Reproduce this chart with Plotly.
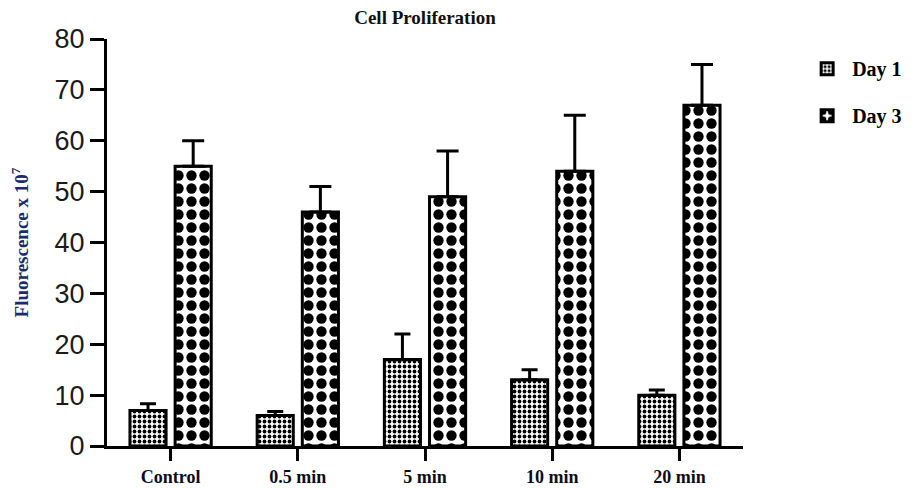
import plotly.graph_objects as go

categories = ["Control", "0.5 min", "5 min", "10 min", "20 min"]
day1_values = [7, 6, 17, 13, 10]
day1_err = [1.3, 0.8, 5, 2, 1]
day3_values = [55, 46, 49, 54, 67]
day3_err = [5, 5, 9, 11, 8]
y_ticks = [0, 10, 20, 30, 40, 50, 60, 70, 80]

serif = "Liberation Serif, Times New Roman, serif"
sans = "Liberation Sans, Arial, sans-serif"

fig = go.Figure()
fig.add_trace(go.Bar(
    x=categories, y=day1_values, name="<b>Day 1</b>", legendgroup="d1",
    marker=dict(color="white", line=dict(color="black", width=3),
                pattern=dict(shape=".", size=5, solidity=0.45, fgcolor="black",
                             bgcolor="white", fgopacity=1)),
    error_y=dict(type="data", array=day1_err, arrayminus=[0]*5, symmetric=False,
                 color="black", thickness=3, width=8),
))
fig.add_trace(go.Bar(
    x=categories, y=day3_values, name="<b>Day 3</b>", legendgroup="d3",
    marker=dict(color="white", line=dict(color="black", width=3),
                pattern=dict(shape=".", size=13, solidity=0.5, fgcolor="black",
                             bgcolor="white", fgopacity=1)),
    error_y=dict(type="data", array=day3_err, arrayminus=[0]*5, symmetric=False,
                 color="black", thickness=3, width=11),
))

fig.update_layout(
    width=911, height=480,
    paper_bgcolor="white", plot_bgcolor="white",
    margin=dict(l=99, r=167, t=31, b=42),
    barmode="group", bargap=0.29, bargroupgap=0.2,
    title=dict(text="<b>Cell Proliferation</b>", x=0.5, xref="paper", y=0.981, yref="container",
               xanchor="center", yanchor="middle",
               font=dict(family=serif, size=19, color="#111")),
    legend=dict(x=1.093, y=0.975, xanchor="left", yanchor="top", tracegroupgap=18,
                font=dict(family=serif, size=20, color="black"), itemwidth=40,
                bgcolor="rgba(0,0,0,0)"),
    xaxis=dict(showline=True, linecolor="black", linewidth=3, ticks="outside",
               ticklen=12, tickwidth=3, tickcolor="black", range=[-0.5, 4.5],
               automargin=False,
               tickfont=dict(family=serif, size=18, color="#0d0d1a"),
               tickprefix="<b>", ticksuffix="</b>", showgrid=False, zeroline=False),
    yaxis=dict(range=[0, 80], tickvals=y_ticks, showline=True, linecolor="black", linewidth=3,
               ticks="outside", ticklen=14, tickwidth=3, tickcolor="black",
               automargin=False,
               tickfont=dict(family=sans, size=27, color="#1a1a1a"),
               showgrid=False, zeroline=False,
               title=dict(text="<b>Fluorescence x 10<sup>7</sup></b>", standoff=24,
                          font=dict(family=serif, size=19, color="#1c2a6b"))),
)

fig.write_html("out.html")
